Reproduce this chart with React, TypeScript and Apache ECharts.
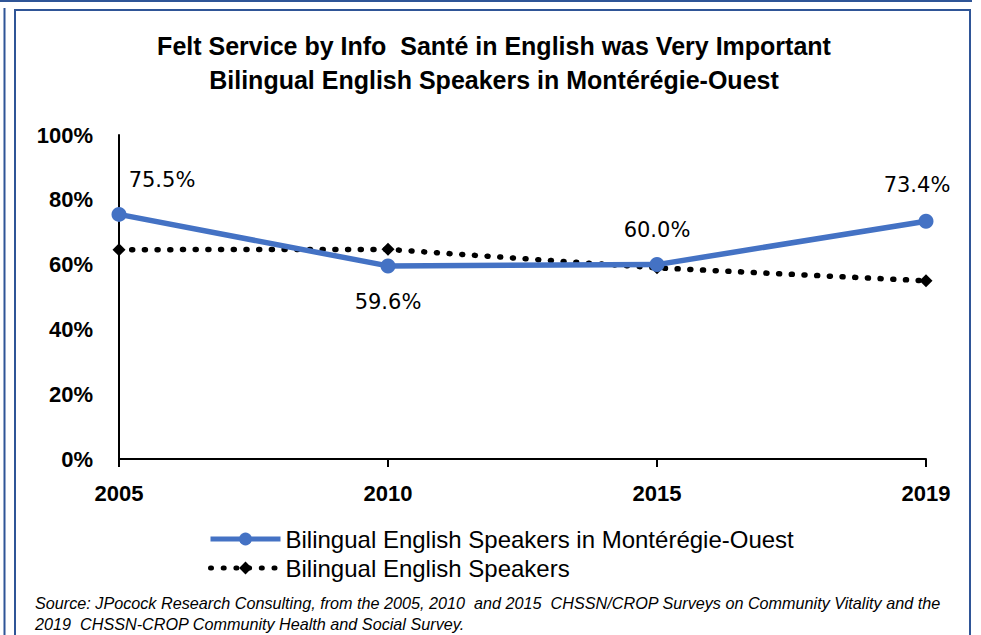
import React, { useEffect, useRef } from "react";
import * as echarts from "echarts";

const years = ["2005", "2010", "2015", "2019"];
const monteregieOuest = [75.5, 59.6, 60.0, 73.4];
const bilingualAll = [64.6, 64.7, 59.0, 55.0];
const yTicks = [0, 20, 40, 60, 80, 100];
const titleLines = [
  "Felt Service by Info  Santé in English was Very Important",
  "Bilingual English Speakers in Montérégie-Ouest",
];
const seriesNames = ["Bilingual English Speakers in Montérégie-Ouest", "Bilingual English Speakers"];
const sourceLines = [
  "Source: JPocock Research Consulting, from the 2005, 2010  and 2015  CHSSN/CROP Surveys on Community Vitality and the",
  "2019  CHSSN-CROP Community Health and Social Survey.",
];
const labelPositions = ["top", "bottom", "top", "top"];

const FRAME = "#2F5597";
const DOTS = [1, 11.7];

export default function App() {
  const ref = useRef<HTMLDivElement>(null);
  useEffect(() => {
    if (!ref.current) return;
    const chart = echarts.init(ref.current, undefined, { renderer: "svg" });
    chart.setOption({
      animation: false,
      backgroundColor: "#fff",
      title: {
        text: titleLines.join("\n"),
        left: 489,
        textAlign: "center",
        top: 24,
        textStyle: {
          fontFamily: "Liberation Sans",
          fontWeight: "bold",
          fontSize: 25,
          lineHeight: 34,
          color: "#000",
        },
      },
      grid: { left: 119, right: 55, top: 135, bottom: 176 },
      xAxis: {
        type: "category",
        data: years,
        boundaryGap: false,
        axisLine: { lineStyle: { color: "#000", width: 2 } },
        axisTick: { show: true, length: 8, lineStyle: { color: "#000", width: 2 } },
        axisLabel: {
          margin: 23,
          fontFamily: "Liberation Sans",
          fontWeight: "bold",
          fontSize: 22,
          color: "#000",
        },
      },
      yAxis: {
        type: "value",
        min: 0,
        max: 100,
        interval: 20,
        splitLine: { show: false },
        axisLine: { show: true, lineStyle: { color: "#000", width: 2 } },
        axisTick: { show: false },
        axisLabel: {
          margin: 26,
          fontFamily: "Liberation Sans",
          fontWeight: "bold",
          fontSize: 22,
          color: "#000",
          formatter: (v: number) => (yTicks.includes(v) ? v + "%" : ""),
        },
      },
      legend: {
        orient: "vertical",
        left: 203,
        top: 522,
        itemWidth: 70,
        itemHeight: 16,
        itemGap: 5,
        textStyle: { fontFamily: "Liberation Sans", fontSize: 24, color: "#000" },
        data: [
          { name: seriesNames[0], lineStyle: { width: 5 } },
          { name: seriesNames[1], lineStyle: { width: 5, type: DOTS, cap: "round" } },
        ],
      },
      series: [
        {
          name: seriesNames[1],
          type: "line",
          data: bilingualAll,
          symbol: "diamond",
          symbolSize: 13,
          itemStyle: { color: "#000" },
          lineStyle: { color: "#000", width: 5.5, type: DOTS, cap: "round" },
          z: 2,
        },
        {
          name: seriesNames[0],
          type: "line",
          data: monteregieOuest.map((v, i) => ({
            value: v,
            label: {
              position: labelPositions[i],
              offset: i === 0 ? [43, -4] : i === 3 ? [-9, -6] : [0, i === 1 ? 6 : -5],
            },
          })),
          symbol: "circle",
          symbolSize: 15,
          itemStyle: { color: "#4472C4" },
          lineStyle: { color: "#4472C4", width: 5.5 },
          label: {
            show: true,
            fontFamily: "DejaVu Sans",
            fontSize: 21,
            color: "#000",
            distance: 12,
            formatter: (p: any) => p.value.toFixed(1) + "%",
          },
          z: 3,
        },
      ],
      graphic: [
        { type: "line", shape: { x1: 0, y1: 1, x2: 972, y2: 1 }, style: { stroke: FRAME, lineWidth: 2 } },
        { type: "line", shape: { x1: 4.5, y1: 8, x2: 4.5, y2: 635 }, style: { stroke: FRAME, lineWidth: 2 } },
        {
          type: "polyline",
          shape: { points: [[15, 635], [15, 10], [970, 10], [970, 635]] },
          style: { stroke: FRAME, lineWidth: 2, fill: "none" },
        },
        {
          type: "text",
          x: 35,
          y: 595,
          style: {
            text: sourceLines[0],
            font: "italic 16.2px Liberation Sans",
            fill: "#000",
          },
        },
        {
          type: "text",
          x: 35,
          y: 616,
          style: {
            text: sourceLines[1],
            font: "italic 16.2px Liberation Sans",
            fill: "#000",
          },
        },
      ],
    });
    return () => chart.dispose();
  }, []);
  return <div ref={ref} style={{ width: 981, height: 635, position: "absolute", left: 0, top: 0 }} />;
}
